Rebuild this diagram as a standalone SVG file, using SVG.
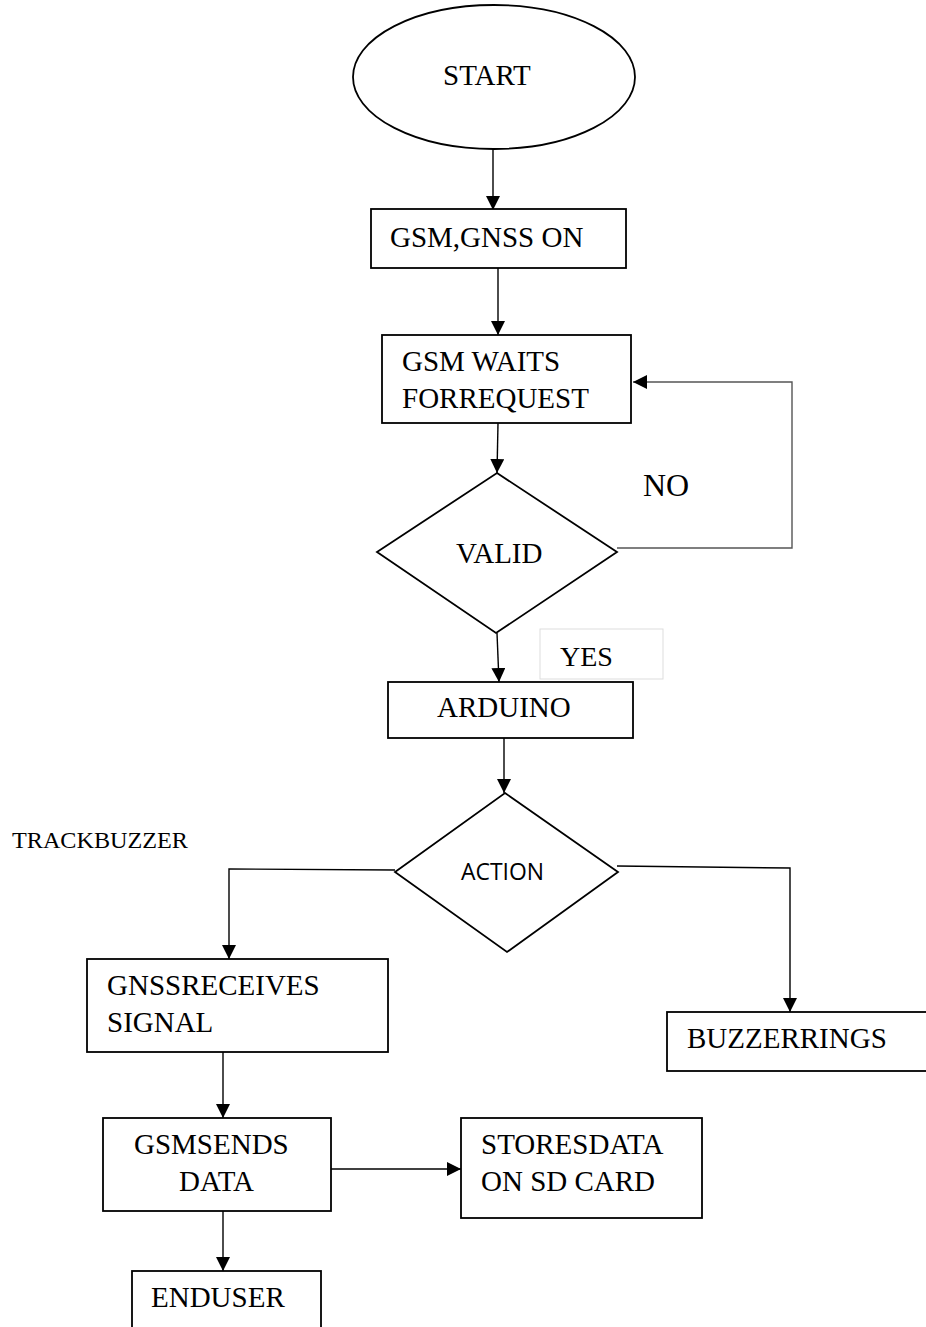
<svg xmlns="http://www.w3.org/2000/svg" width="926" height="1327" viewBox="0 0 926 1327">
<style>
.shape{fill:#fff;stroke:#000;stroke-width:1.8}
.conn{fill:none;stroke:#000;stroke-width:1.4}
.grey{stroke:#555}
.t{font-family:"Liberation Serif","Times New Roman",serif;font-size:29px;fill:#000}
.s{font-family:"Open Sans","Liberation Sans",sans-serif;font-size:23px;fill:#000}
</style>
<defs>
<marker id="ah" markerUnits="userSpaceOnUse" markerWidth="14" markerHeight="14" refX="14" refY="7" orient="auto">
<path d="M0,0 L14,7 L0,14 z" fill="#000"/>
</marker>
</defs>
<rect width="926" height="1327" fill="#fff"/>
<g id="connectors">
<path class="conn" d="M493,149 L493,210" marker-end="url(#ah)"/>
<path class="conn" d="M498,268 L498,335" marker-end="url(#ah)"/>
<path class="conn" d="M498,423 L497,473" marker-end="url(#ah)"/>
<path class="conn grey" d="M617,548 L792,548 L792,382 L633,382" marker-end="url(#ah)"/>
<path class="conn" d="M497,633 L499,682" marker-end="url(#ah)"/>
<path class="conn" d="M504,738 L504,793" marker-end="url(#ah)"/>
<path class="conn" d="M395,870 L229,869 L229,959" marker-end="url(#ah)"/>
<path class="conn" d="M617,866 L790,868 L790,1012" marker-end="url(#ah)"/>
<path class="conn" d="M223,1045 L223,1118" marker-end="url(#ah)"/>
<path class="conn" d="M331,1169 L461,1169" marker-end="url(#ah)"/>
<path class="conn" d="M223,1211 L223,1271" marker-end="url(#ah)"/>
</g>
<g id="start">
<ellipse class="shape" cx="494" cy="77" rx="141" ry="72"/>
<text class="t" x="443" y="85" font-size="28">START</text>
</g>
<g id="gsm-gnss-on">
<rect class="shape" x="371" y="209" width="255" height="59"/>
<text class="t" x="390" y="247">GSM,GNSS ON</text>
</g>
<g id="gsm-waits">
<rect class="shape" x="382" y="335" width="249" height="88"/>
<text class="t" x="402" y="371">GSM WAITS</text>
<text class="t" x="402" y="408">FORREQUEST</text>
</g>
<g id="valid">
<polygon class="shape" points="497,473 617,552 496,633 377,552"/>
<text class="t" x="456" y="563">VALID</text>
</g>
<g id="no-label">
<text class="t" x="643" y="496" style="font-size:32px">NO</text>
</g>
<g id="yes-label">
<rect x="540" y="629" width="123" height="50" fill="#fff" stroke="#ddd" stroke-width="1"/>
<text class="t" x="560" y="666" style="font-size:28px">YES</text>
</g>
<g id="arduino">
<rect class="shape" x="388" y="682" width="245" height="56"/>
<text class="t" x="437" y="717">ARDUINO</text>
</g>
<g id="trackbuzzer-label">
<text class="t" x="12" y="848" style="font-size:23px" textLength="176" lengthAdjust="spacingAndGlyphs">TRACKBUZZER</text>
</g>
<g id="action">
<polygon class="shape" points="505,793 618,872 507,952 395,872"/>
<text class="s" x="461" y="880" textLength="83" lengthAdjust="spacingAndGlyphs">ACTION</text>
</g>
<g id="gnss-receives">
<rect class="shape" x="87" y="959" width="301" height="93"/>
<text class="t" x="107" y="995">GNSSRECEIVES</text>
<text class="t" x="107" y="1032">SIGNAL</text>
</g>
<g id="buzzer-rings">
<rect class="shape" x="667" y="1012" width="265" height="59"/>
<text class="t" x="687" y="1048">BUZZERRINGS</text>
</g>
<g id="gsm-sends">
<rect class="shape" x="103" y="1118" width="228" height="93"/>
<text class="t" x="134" y="1154">GSMSENDS</text>
<text class="t" x="179" y="1191">DATA</text>
</g>
<g id="stores-data">
<rect class="shape" x="461" y="1118" width="241" height="100"/>
<text class="t" x="481" y="1154">STORESDATA</text>
<text class="t" x="481" y="1191">ON SD CARD</text>
</g>
<g id="end-user">
<rect class="shape" x="132" y="1271" width="189" height="70"/>
<text class="t" x="151" y="1307">ENDUSER</text>
</g>
</svg>
